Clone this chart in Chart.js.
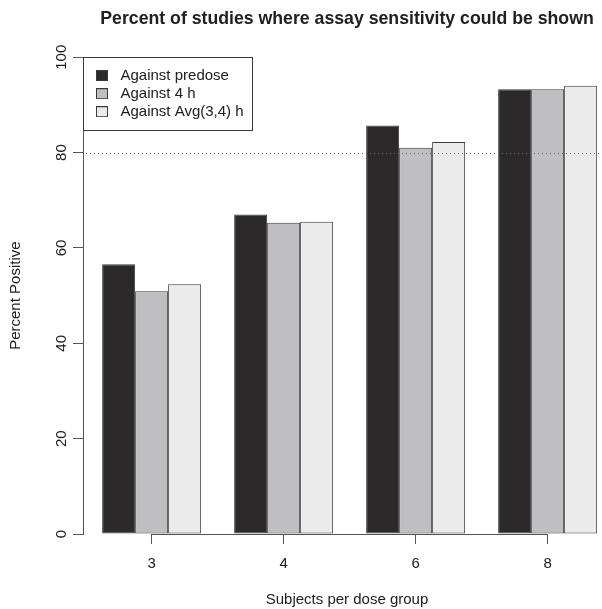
<!DOCTYPE html>
<html>
<head>
<meta charset="utf-8">
<script src="https://cdn.jsdelivr.net/npm/chart.js@4.4.1/dist/chart.umd.min.js"></script>
<style>
  html, body { margin: 0; padding: 0; background: #fff; overflow: hidden; }
  #wrap { width: 611px; height: 609px; }
</style>
</head>
<body>
<div id="wrap"><canvas id="chart" width="611" height="609"></canvas></div>
<script>
// ----------------- DATA -----------------
const groups = ["3", "4", "6", "8"];
const againstPredose = [56.6, 67.0, 85.7, 93.3];
const against4h = [50.9, 65.3, 81.0, 93.3];
const againstAvg34 = [52.4, 65.5, 82.2, 94.0];
const seriesNames = ["Against predose", "Against 4 h", "Against Avg(3,4) h"];
const yTicks = [0, 20, 40, 60, 80, 100];
const refLine = 80;

// ----------------- STYLE -----------------
const FONT = "'Liberation Sans', Arial, Helvetica, sans-serif";
const INK = "#202020";
const AXIS = "#555555";
const EDGE = "#3a3a3a";
const fills = ["#2b2929", "#bfbfc2", "#ebebeb"];
const font15 = { size: 15, family: FONT };

// legend swatch: small square inside a wider transparent image,
// so the label text lands where R puts it
function swatch(color) {
  const c = document.createElement("canvas");
  c.width = 27;
  c.height = 11;
  const g = c.getContext("2d");
  g.fillStyle = color;
  g.fillRect(10, 0, 12, 11);
  g.strokeStyle = EDGE;
  g.lineWidth = 1;
  g.strokeRect(10.5, 0.5, 11, 10);
  return c;
}

function toPoints(values) {
  return values.map((v, i) => ({ x: i, y: v }));
}

// ----------------- EXTRA DRAWING -----------------
const extras = {
  id: "extras",
  afterLayout(chart) {
    const ca = chart.chartArea;
    const lg = chart.legend;
    lg.left = ca.left;
    lg.right = ca.right;
    lg.top = ca.top + 8;
    lg.bottom = ca.bottom;
  },
  beforeDatasetsDraw(chart) {
    // R draws the x axis line only from the first to the last tick
    const { ctx, scales: { x, y } } = chart;
    const py = Math.round(y.getPixelForValue(0)) + 0.5;
    ctx.save();
    ctx.strokeStyle = AXIS;
    ctx.lineWidth = 1;
    ctx.beginPath();
    ctx.moveTo(x.getPixelForValue(0), py);
    ctx.lineTo(x.getPixelForValue(groups.length - 1), py);
    ctx.stroke();
    ctx.restore();
  },
  afterDatasetsDraw(chart) {
    const { ctx, chartArea: ca, scales: { y } } = chart;
    const py = Math.round(y.getPixelForValue(refLine)) + 0.5;
    ctx.save();
    ctx.strokeStyle = "#6a6a6a";
    ctx.lineWidth = 1;
    ctx.setLineDash([1, 3]);
    ctx.beginPath();
    ctx.moveTo(ca.left + 3, py);
    ctx.lineTo(ca.right, py);
    ctx.stroke();
    ctx.restore();
  },
  afterDraw(chart) {
    // frame round the legend
    const { ctx, chartArea: ca } = chart;
    const boxes = chart.legend.legendHitBoxes || [];
    if (!boxes.length) return;
    let right = 0;
    boxes.forEach(b => { right = Math.max(right, b.left + b.width); });
    const last = boxes[boxes.length - 1];
    const top = Math.round(ca.top) + 0.5;
    const left = Math.round(ca.left) + 0.5;
    const r = Math.round(right + 8) + 0.5;
    const b = Math.round(last.top + last.height + 11) + 0.5;
    ctx.save();
    ctx.strokeStyle = EDGE;
    ctx.lineWidth = 1;
    ctx.strokeRect(left, top, r - left, b - top);
    ctx.restore();
  }
};

// ----------------- CHART -----------------
const seriesValues = [againstPredose, against4h, againstAvg34];

const chart = new Chart(document.getElementById("chart"), {
  type: "bar",
  data: {
    datasets: seriesValues.map((vals, k) => ({
      label: seriesNames[k],
      data: toPoints(vals),
      backgroundColor: fills[k],
      borderColor: EDGE,
      borderWidth: 1,
      borderSkipped: false,
      barPercentage: 1,
      categoryPercentage: 0.75
    }))
  },
  options: {
    responsive: false,
    animation: false,
    layout: { padding: 0 },
    scales: {
      x: {
        type: "linear",
        offset: false,
        min: -0.52,
        max: 3.48,
        afterBuildTicks: s => { s.ticks = groups.map((g, i) => ({ value: i })); },
        afterFit: s => { s.height = 75; },
        border: { display: false },
        grid: { offset: false, drawOnChartArea: false, drawTicks: true, tickLength: 10, color: AXIS },
        ticks: { font: font15, color: INK, padding: 11, maxRotation: 0, autoSkip: false,
                 callback: v => groups[v] },
        title: { display: true, text: "Subjects per dose group", font: font15, color: INK,
                 padding: { top: 0, bottom: 0 } }
      },
      y: {
        min: 0,
        max: 100,
        afterBuildTicks: s => { s.ticks = yTicks.map(v => ({ value: v })); },
        afterFit: s => { s.width = 83; },
        border: { display: true, color: AXIS, width: 1 },
        grid: { drawOnChartArea: false, drawTicks: true, tickLength: 10, color: AXIS },
        ticks: { font: font15, color: INK, minRotation: 90, maxRotation: 90,
                 crossAlign: "center", padding: -1.5 },
        title: { display: true, text: "Percent Positive", font: font15, color: INK,
                 padding: { top: 6.4, bottom: 0 } }
      }
    },
    plugins: {
      tooltip: { enabled: false },
      title: {
        display: true,
        fullSize: false,
        text: "Percent of studies where assay sensitivity could be shown",
        font: { size: 17.7, weight: "bold", family: FONT },
        color: INK,
        padding: { top: 8.2, bottom: 27.8 }
      },
      legend: {
        position: "chartArea",
        align: "start",
        labels: {
          font: font15,
          color: INK,
          padding: 3,
          usePointStyle: true,
          pointStyleWidth: 27,
          boxHeight: 11,
          generateLabels: c => Chart.defaults.plugins.legend.labels.generateLabels(c)
            .map((item, k) => Object.assign(item, { pointStyle: swatch(fills[k]) }))
        }
      }
    }
  },
  plugins: [extras]
});
</script>
</body>
</html>
